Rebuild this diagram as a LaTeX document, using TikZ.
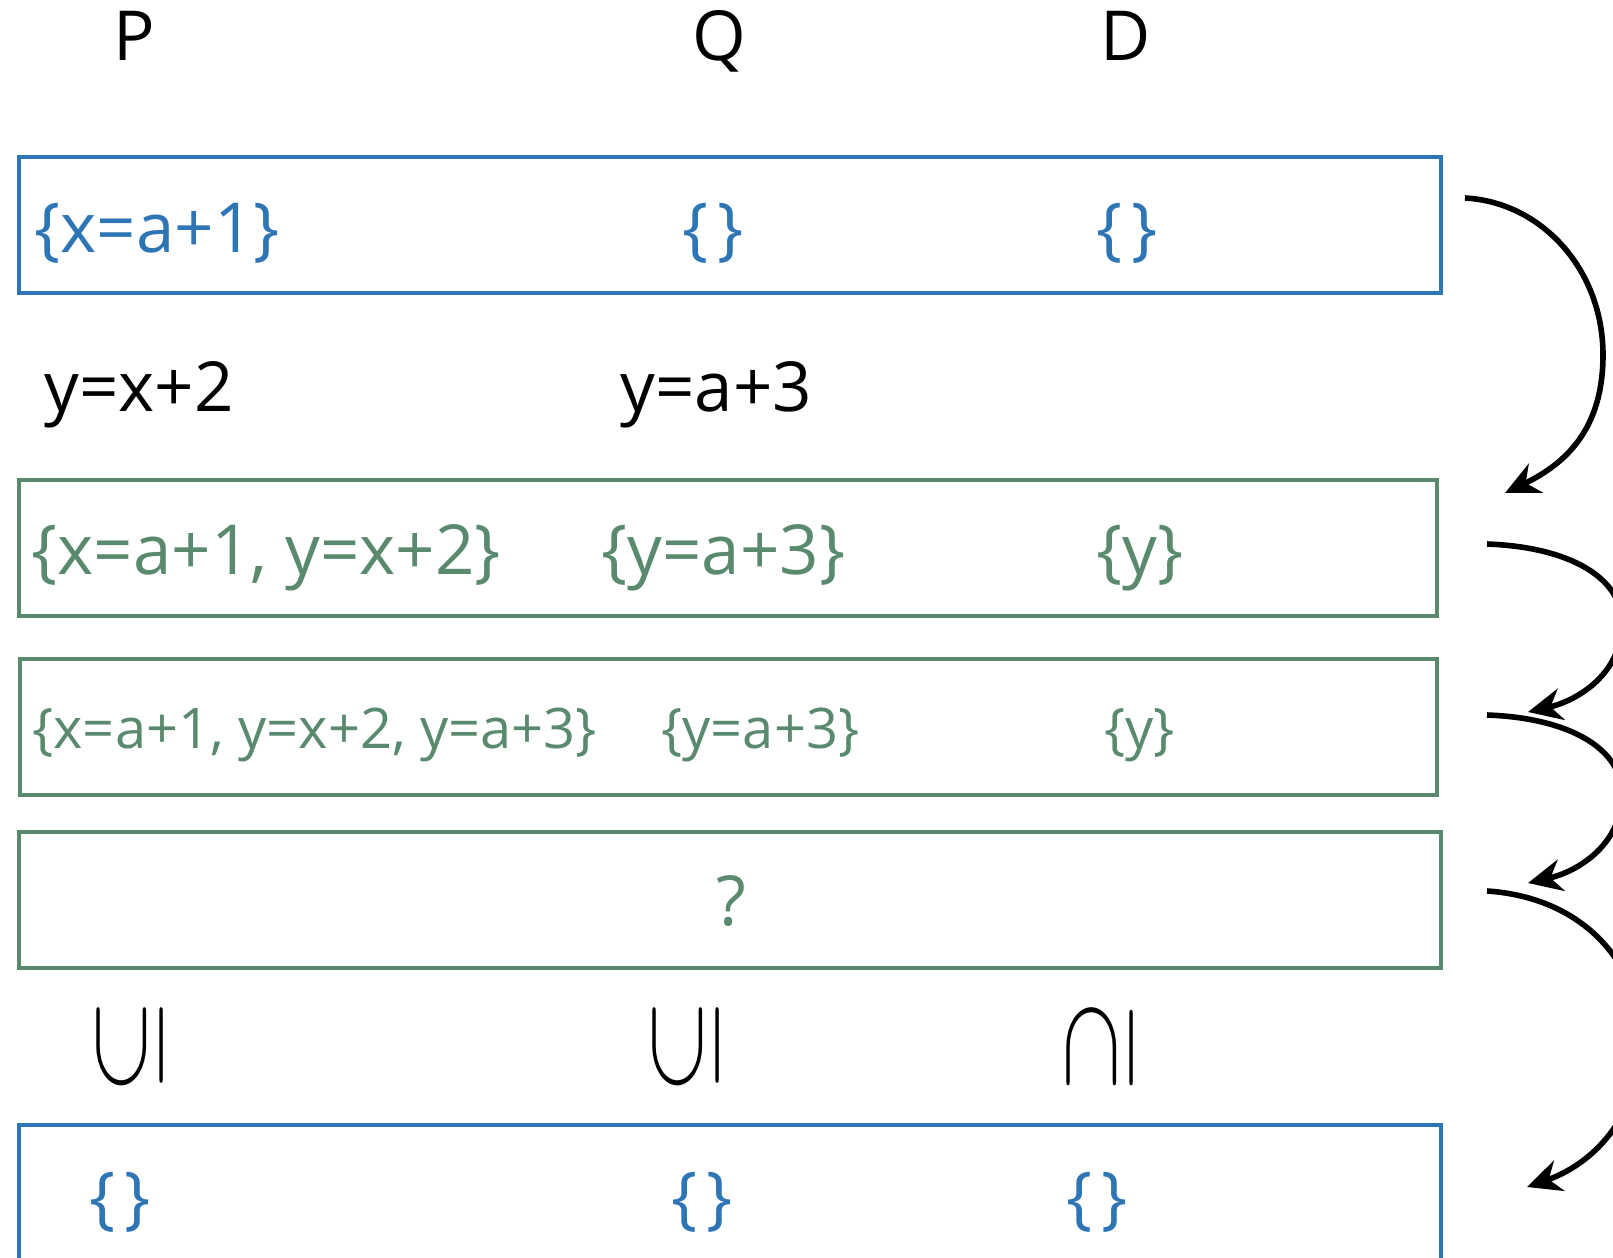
\documentclass[tikz,border=0pt]{standalone}
\usepackage{fontspec}
\setmainfont{Open Sans}
\usetikzlibrary{arrows.meta}
\definecolor{setblue}{HTML}{2E75B6}
\definecolor{setgreen}{HTML}{5A8A6E}

\begin{document}
\begin{tikzpicture}[x=0.5pt,y=-0.5pt,
  lbl/.style={inner sep=0pt, font=\fontsize{34.5}{40}\selectfont},
  smalllbl/.style={inner sep=0pt, font=\fontsize{28}{32}\selectfont},
  subrel/.style={inner sep=0pt, rotate=90, xscale=6.4, yscale=4.3, font=\normalsize},
  bluebox/.style={draw=setblue, line width=2pt},
  greenbox/.style={draw=setgreen, line width=2pt},
  flow/.style={black, line width=2.8pt, -{Stealth[length=17pt, width=16pt]}}]
\useasboundingbox (0,0) rectangle (1613,1258);
\clip (0,0) rectangle (1613,1258);

\node[lbl, anchor=base] (p) at (134,61) {P};
\node[lbl, anchor=base] (q) at (719,61) {Q};
\node[lbl, anchor=base] (d) at (1126,61) {D};

\draw[bluebox] (19,157) rectangle (1441,293);
\node[lbl, setblue, anchor=base west] (p1) at (34,252) {\{x=a+1\}};
\node[lbl, setblue, anchor=base] (q1) at (713,252) {\{\kern0.14em\}};
\node[lbl, setblue, anchor=base] (d1) at (1127,252) {\{\kern0.14em\}};

\node[lbl, anchor=base west] (py) at (44,411) {y=x+2};
\node[lbl, anchor=base west] (qy) at (620,411) {y=a+3};

\draw[greenbox] (19,480) rectangle (1437,616);
\node[lbl, setgreen, anchor=base west] (p2) at (31,574) {\{x=a+1, y=x+2\}};
\node[lbl, setgreen, anchor=base west] (q2) at (601,574) {\{y=a+3\}};
\node[lbl, setgreen, anchor=base west] (d2) at (1096,574) {\{y\}};

\draw[greenbox] (20,659) rectangle (1437,795);
\node[smalllbl, setgreen, anchor=base west] (p3) at (32,748) {\{x=a+1, y=x+2, y=a+3\}};
\node[smalllbl, setgreen, anchor=base west] (q3) at (661,748) {\{y=a+3\}};
\node[smalllbl, setgreen, anchor=base west] (d3) at (1104,748) {\{y\}};

\draw[greenbox] (19,832) rectangle (1441,968);
\node[lbl, setgreen, anchor=base] (q4) at (731,925) {?};

\node[subrel] (ps) at (130,1047) {$\subseteq$};
\node[subrel] (qs) at (686,1047) {$\subseteq$};
\node[subrel] (ds) at (1100,1047) {$\supseteq$};

\draw[bluebox] (19,1125) rectangle (1441,1320);
\node[lbl, setblue, anchor=base] (p5) at (120,1221) {\{\kern0.14em\}};
\node[lbl, setblue, anchor=base] (q5) at (702,1221) {\{\kern0.14em\}};
\node[lbl, setblue, anchor=base] (d5) at (1097,1221) {\{\kern0.14em\}};

\coordinate (s1) at (1465,198);
\coordinate (t1) at (1505,493);
\coordinate (s2) at (1487,544);
\coordinate (t2) at (1528,712);
\coordinate (s3) at (1487,715);
\coordinate (t3) at (1528,883);
\coordinate (s4) at (1487,891);
\coordinate (t4) at (1527,1187);

\draw[flow] (s1) .. controls (1541,202) and (1603,269) .. (1603,355) .. controls (1603,430) and (1565,464) .. (t1);
\draw[flow] (s2) .. controls (1570,547) and (1622,578) .. (1622,623) .. controls (1622,672) and (1580,700) .. (t2);
\draw[flow] (s3) .. controls (1570,718) and (1622,749) .. (1622,794) .. controls (1622,843) and (1580,871) .. (t3);
\draw[flow] (s4) .. controls (1580,897) and (1640,960) .. (1640,1040) .. controls (1640,1120) and (1590,1165) .. (t4);
\end{tikzpicture}
\end{document}
